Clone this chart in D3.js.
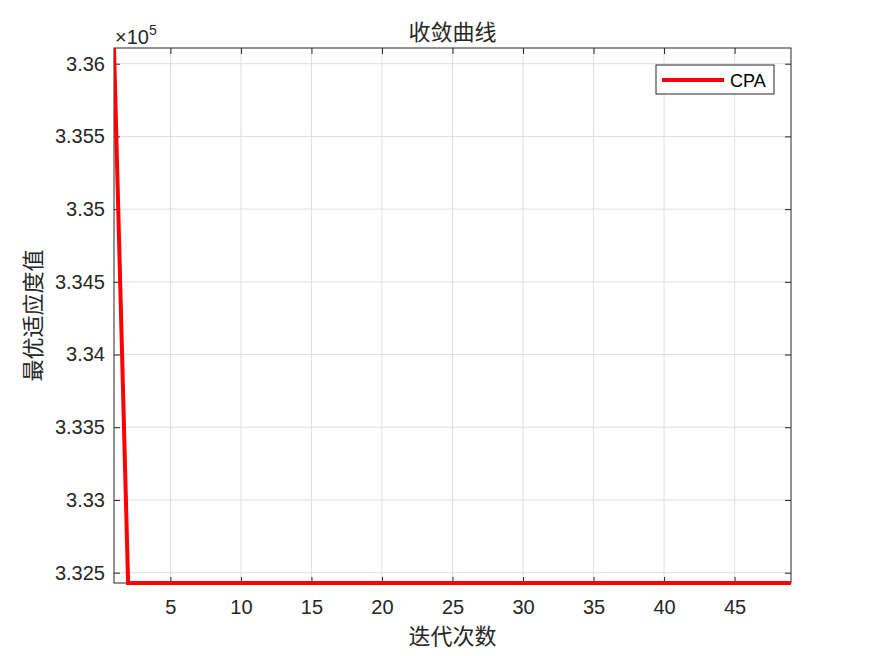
<!DOCTYPE html>
<html>
<head>
<meta charset="utf-8">
<script src="https://cdn.jsdelivr.net/npm/d3@7"></script>
<style>
  body { margin: 0; background: #fff; }
  svg { display: block; }
</style>
</head>
<body>
<svg id="chart" width="875" height="656"></svg>
<script>
// iterations 1..49, best fitness per iteration
const iterations = d3.range(1, 50);
const fitness = iterations.map((it) => it === 1 ? 336108 : 332429);
const xTicks = [5, 10, 15, 20, 25, 30, 35, 40, 45];
const yTicks = [3.325, 3.33, 3.335, 3.34, 3.345, 3.35, 3.355, 3.36];
const seriesName = 'CPA';

const svg = d3.select('#chart');
const plotLeft = 114, plotRight = 791, plotTop = 48, plotBottom = 583;
const tickFont = '"Liberation Sans", Arial, sans-serif';
const cjkFont = '"Noto Sans CJK SC", sans-serif';

const xs = d3.scaleLinear().domain([1, 49]).range([plotLeft, plotRight]);
const ys = d3.scaleLinear().domain([d3.min(fitness) / 1e5, d3.max(fitness) / 1e5]).range([plotBottom, plotTop]);

const plot = svg.append('g');

// grid
plot.append('g').selectAll('line').data(xTicks).enter().append('line')
    .attr('x1', d => xs(d)).attr('x2', d => xs(d)).attr('y1', plotTop).attr('y2', plotBottom)
    .attr('stroke', '#dfdfdf').attr('stroke-width', 1);
plot.append('g').selectAll('line').data(yTicks).enter().append('line')
    .attr('x1', plotLeft).attr('x2', plotRight).attr('y1', d => ys(d)).attr('y2', d => ys(d))
    .attr('stroke', '#dfdfdf').attr('stroke-width', 1);

// axes
const styleAxis = (g) => {
    g.select('.domain').remove();
    g.selectAll('.tick line').attr('stroke', '#262626');
    g.selectAll('.tick text').attr('fill', '#262626').style('font-family', tickFont).style('font-size', '20px');
};
svg.append('g').attr('transform', `translate(0,${plotBottom})`)
    .call(d3.axisBottom(xs).tickValues(xTicks).tickSizeInner(-6).tickPadding(17)).call(styleAxis);
svg.append('g').attr('transform', `translate(0,${plotTop})`)
    .call(d3.axisTop(xs).tickValues(xTicks).tickSizeInner(-6).tickFormat('')).call(styleAxis);
svg.append('g').attr('transform', `translate(${plotLeft},0)`)
    .call(d3.axisLeft(ys).tickValues(yTicks).tickSizeInner(-6).tickPadding(9).tickFormat(d3.format('~g'))).call(styleAxis);
svg.append('g').attr('transform', `translate(${plotRight},0)`)
    .call(d3.axisRight(ys).tickValues(yTicks).tickSizeInner(-6).tickFormat('')).call(styleAxis);

svg.append('rect').attr('x', plotLeft).attr('y', plotTop).attr('width', plotRight - plotLeft).attr('height', plotBottom - plotTop)
    .attr('fill', 'none').attr('stroke', '#262626').attr('stroke-width', 1);

// line
svg.append('clipPath').attr('id', 'clip').append('rect')
    .attr('x', plotLeft).attr('y', plotTop - 1).attr('width', plotRight - plotLeft).attr('height', plotBottom - plotTop + 3);
svg.append('path')
    .datum(iterations.map((it, i) => [it, fitness[i] / 1e5]))
    .attr('clip-path', 'url(#clip)')
    .attr('fill', 'none').attr('stroke', '#ff0000').attr('stroke-width', 4)
    .attr('d', d3.line().x(d => xs(d[0])).y(d => ys(d[1])));

// exponent
const ex = svg.append('text').attr('x', 115).attr('y', 44).attr('fill', '#262626')
    .style('font-family', tickFont).style('font-size', '20px');
ex.append('tspan').text('×10');
ex.append('tspan').attr('dy', -9).style('font-size', '14px').text('5');

// title & labels
svg.append('text').attr('x', (plotLeft + plotRight) / 2).attr('y', 40).attr('text-anchor', 'middle')
    .style('font-family', cjkFont).style('font-size', '22px').attr('fill', '#262626').text('收敛曲线');
svg.append('text').attr('x', (plotLeft + plotRight) / 2).attr('y', 644).attr('text-anchor', 'middle')
    .style('font-family', cjkFont).style('font-size', '22px').attr('fill', '#262626').text('迭代次数');
svg.append('text').attr('transform', `translate(41,${(plotTop + plotBottom) / 2}) rotate(-90)`).attr('text-anchor', 'middle')
    .style('font-family', cjkFont).style('font-size', '22px').attr('fill', '#262626').text('最优适应度值');

// legend
const lg = svg.append('g');
lg.append('rect').attr('x', 656).attr('y', 65).attr('width', 118).attr('height', 29)
    .attr('fill', '#fff').attr('stroke', '#262626').attr('stroke-width', 1);
lg.append('line').attr('x1', 662).attr('x2', 724).attr('y1', 80).attr('y2', 80)
    .attr('stroke', '#ff0000').attr('stroke-width', 4);
lg.append('text').attr('x', 730).attr('y', 87).attr('fill', '#000')
    .style('font-family', tickFont).style('font-size', '18px').text(seriesName);
</script>
</body>
</html>
